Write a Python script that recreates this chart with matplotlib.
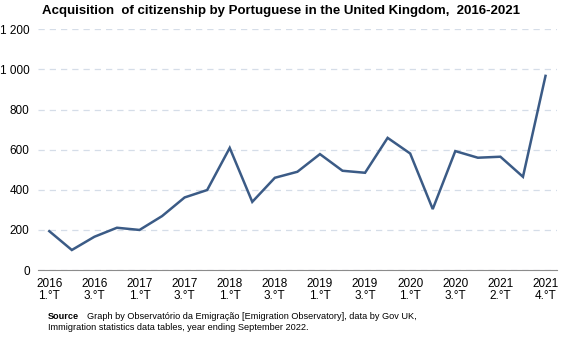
import matplotlib.pyplot as plt
import numpy as np

plt.rcParams['font.family'] = ['Liberation Sans', 'DejaVu Sans']

# quarters (2020 4.°T missing in the source series)
years = ['2016', '2016', '2016', '2016', '2017', '2017', '2017', '2017',
         '2018', '2018', '2018', '2018', '2019', '2019', '2019', '2019',
         '2020', '2020', '2020', '2021', '2021', '2021', '2021']
quarters = ['1.°T', '2.°T', '3.°T', '4.°T', '1.°T', '2.°T', '3.°T', '4.°T',
            '1.°T', '2.°T', '3.°T', '4.°T', '1.°T', '2.°T', '3.°T', '4.°T',
            '1.°T', '2.°T', '3.°T', '1.°T', '2.°T', '3.°T', '4.°T']
values = [194, 100, 166, 211, 200, 269, 362, 399,
          609, 340, 460, 490, 578, 495, 485, 659,
          581, 304, 593, 560, 565, 465, 968]

x = np.arange(len(values))

fig = plt.figure(figsize=(5.67, 3.41), dpi=100)
ax = fig.add_axes([0.067, 0.208, 0.915, 0.706])

ax.plot(x, values, color='#3b5b86', linewidth=1.8, solid_joinstyle='miter')

ax.set_xlim(-0.5, len(values) - 0.5)
ax.set_ylim(0, 1200)
yt = np.arange(0, 1201, 200)
ax.set_yticks(yt)
ax.set_yticklabels([f'{v:,}'.replace(',', ' ') for v in yt])
ax.yaxis.grid(True, color='#d5dde8', linestyle=(0, (5, 4)), linewidth=0.9)
ax.set_axisbelow(True)

tick_idx = x[::2]
ax.set_xticks(tick_idx)
ax.set_xticklabels([f'{years[i]}\n{quarters[i]}' for i in tick_idx],
                   linespacing=1.0)

for s in ['top', 'right', 'left']:
    ax.spines[s].set_visible(False)
ax.spines['bottom'].set_color('#8c8c8c')
ax.tick_params(axis='both', length=0, labelsize=8.5, colors='black')
ax.tick_params(axis='x', pad=6)
ax.tick_params(axis='y', pad=6)

fig.text(0.074, 0.968, 'Acquisition  of citizenship by Portuguese in the United Kingdom,  2016-2021',
         fontsize=9.5, fontweight='bold', va='center', ha='left')

fig.text(0.085, 0.073, 'Source', fontsize=6.6, fontweight='bold', va='center')
fig.text(0.153, 0.073, 'Graph by Observatório da Emigração [Emigration Observatory], data by Gov UK,',
         fontsize=6.6, va='center')
fig.text(0.085, 0.039, 'Immigration statistics data tables, year ending September 2022.',
         fontsize=6.6, va='center')

fig.savefig('out.png', dpi=100)
